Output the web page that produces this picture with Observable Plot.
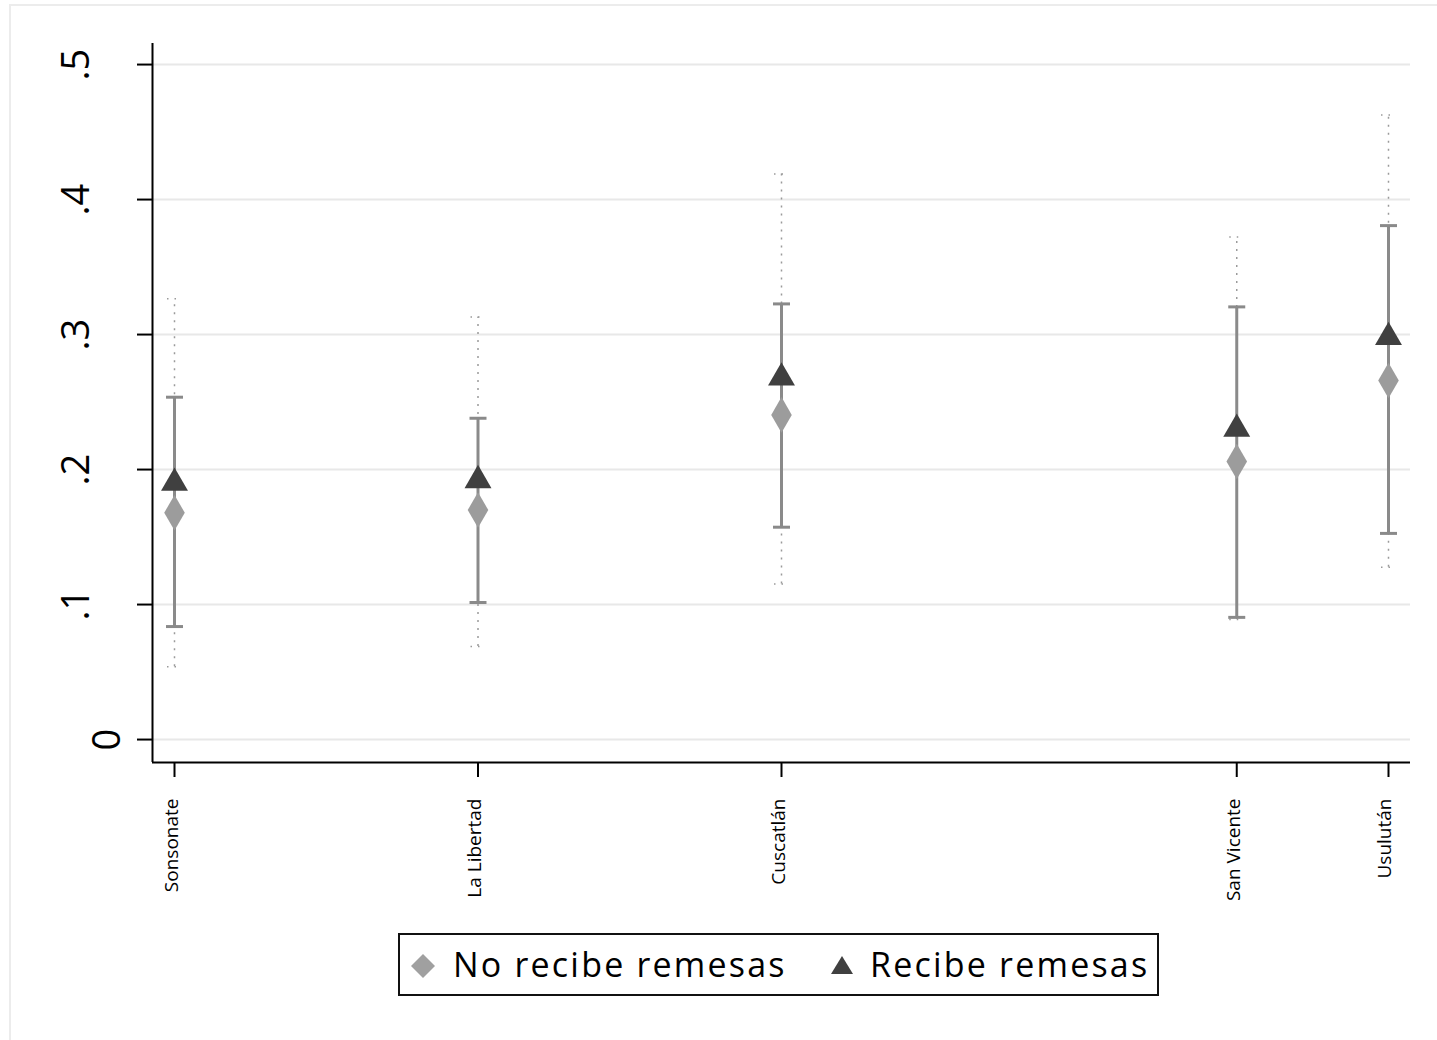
<!DOCTYPE html>
<html><head><meta charset="utf-8">
<script src="https://cdn.jsdelivr.net/npm/d3@7"></script>
<script src="https://cdn.jsdelivr.net/npm/@observablehq/plot@0.6"></script>
<style>
body{margin:0;background:#fff;overflow:hidden;font-family:"Open Sans",sans-serif}
#wrap{position:relative;width:1437px;height:1040px;overflow:hidden;background:#fff}
#frame{position:absolute;left:9px;top:4px;width:1450px;height:1060px;border:2px solid #ececec;box-sizing:border-box}
#chart{position:absolute;left:0;top:0}
#legend{position:absolute;left:398px;top:933px;width:761px;height:63px;border:2px solid #111;box-sizing:border-box;font-size:34px;letter-spacing:2.2px;color:#000}
#legend .it{position:absolute;top:0;height:59px;line-height:59px;white-space:nowrap}
#legend svg{position:absolute}
</style></head>
<body><div id="wrap"><div id="frame"></div><div id="chart"></div>
<div id="legend">
<svg style="left:10px;top:18px" width="26" height="26"><path d="M13,1L25,13L13,25L1,13Z" fill="#a0a0a0"/></svg>
<span class="it" style="left:53px">No recibe remesas</span>
<svg style="left:430px;top:20px" width="24" height="20"><path d="M12,1L23,19L1,19Z" fill="#404040"/></svg>
<span class="it" style="left:470px">Recibe remesas</span>
</div></div>
<script>
const codes = [3, 5, 7, 10, 11];
const deptos = ["Sonsonate", "La Libertad", "Cuscatlán", "San Vicente", "Usulután"];
const noRecibe   = [0.168, 0.170, 0.2405, 0.206, 0.266];
const noRecibeLo = [0.0837, 0.1015, 0.1573, 0.0905, 0.1527];
const noRecibeHi = [0.2536, 0.238, 0.3227, 0.3205, 0.3807];
const recibe   = [0.190, 0.192, 0.268, 0.230, 0.298];
const recibeLo = [0.054, 0.069, 0.1153, 0.089, 0.1276];
const recibeHi = [0.3265, 0.313, 0.419, 0.3723, 0.4627];
const yTicks = [0, 0.1, 0.2, 0.3, 0.4, 0.5];
const yTickLabels = ["0", ".1", ".2", ".3", ".4", ".5"];

const data = codes.map((c, i) => ({
  c, d: deptos[i],
  nr: noRecibe[i], nrLo: noRecibeLo[i], nrHi: noRecibeHi[i],
  r: recibe[i], rLo: recibeLo[i], rHi: recibeHi[i]
}));
const yLab = yTicks.map((v, i) => ({v, t: yTickLabels[i]}));

const xDomain = [2.855, 11.145];
const yDomain = [-0.017, 0.5156];

const capSolid = {draw(ctx) { ctx.moveTo(-8.5, 0); ctx.lineTo(8.5, 0); }};
const capDotted = {draw(ctx) { ctx.moveTo(-7.5, 0); ctx.lineTo(7.5, 0); }};

const chart = Plot.plot({
  width: 1437, height: 915,
  marginLeft: 152, marginRight: 27, marginTop: 43, marginBottom: 153,
  style: {fontFamily: "Open Sans", background: "transparent"},
  x: {domain: xDomain, axis: null},
  y: {domain: yDomain, axis: null},
  marks: [
    Plot.gridY(yTicks, {stroke: "#e8e8e8", strokeOpacity: 1, strokeWidth: 2}),
    Plot.axisY({ticks: yTicks, tickSize: 15, tickFormat: () => "", label: null, stroke: "#000", strokeWidth: 2}),
    Plot.text(yLab.filter(d => d.v !== 0), {y: "v", frameAnchor: "left", textAnchor: "middle", text: "t", rotate: -90, dx: -76, fontSize: 38, fill: "#000"}),
    Plot.text(yLab.filter(d => d.v === 0), {y: "v", frameAnchor: "left", textAnchor: "middle", text: "t", rotate: -90, dx: -45, fontSize: 38, fill: "#000"}),
    Plot.axisX({ticks: codes, tickSize: 15, tickFormat: () => "", label: null, stroke: "#000", strokeWidth: 2}),
    Plot.text(codes, {x: d => d, frameAnchor: "bottom", text: (d, i) => deptos[i], rotate: -90, textAnchor: "end", dy: 36, dx: 3, fontSize: 19, fill: "#000"}),
    Plot.ruleX([xDomain[0]], {stroke: "#000", strokeWidth: 2}),
    Plot.ruleY([yDomain[0]], {stroke: "#000", strokeWidth: 2}),
    Plot.ruleX(data, {x: "c", y1: "rLo", y2: "rHi", stroke: "#9a9a9a", strokeWidth: 1.5, strokeDasharray: "2,6"}),
    Plot.dot(data, {x: "c", y: "rLo", symbol: capDotted, fill: "none", stroke: "#9a9a9a", strokeWidth: 1.5, strokeDasharray: "1.5,6"}),
    Plot.dot(data, {x: "c", y: "rHi", symbol: capDotted, fill: "none", stroke: "#9a9a9a", strokeWidth: 1.5, strokeDasharray: "1.5,6"}),
    Plot.ruleX(data, {x: "c", y1: "nrLo", y2: "nrHi", stroke: "#8a8a8a", strokeWidth: 3}),
    Plot.dot(data, {x: "c", y: "nrLo", symbol: capSolid, fill: "none", stroke: "#8a8a8a", strokeWidth: 3}),
    Plot.dot(data, {x: "c", y: "nrHi", symbol: capSolid, fill: "none", stroke: "#8a8a8a", strokeWidth: 3}),
    Plot.dot(data, {x: "c", y: "nr", symbol: "diamond", r: 10.8, fill: "#9c9c9c", stroke: "none"}),
    Plot.dot(data, {x: "c", y: "r", symbol: "triangle", r: 10, fill: "#404040", stroke: "none"})
  ]
});
document.getElementById("chart").appendChild(chart);
</script></body></html>
